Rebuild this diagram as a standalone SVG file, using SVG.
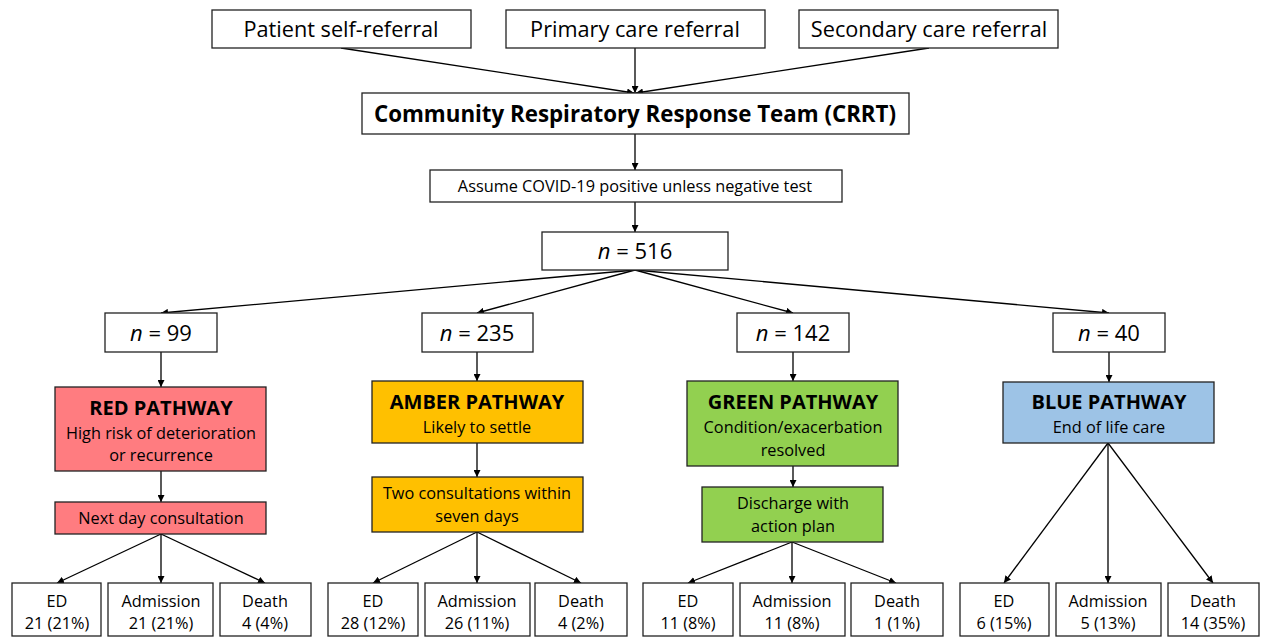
<svg xmlns="http://www.w3.org/2000/svg" width="1261" height="642" viewBox="0 0 1261 642">
<defs>
<marker id="ah" viewBox="0 0 10 10" refX="10" refY="5" markerWidth="7" markerHeight="7" markerUnits="userSpaceOnUse" orient="auto">
<path d="M0,0 L10,5 L0,10 z" fill="#000"/>
</marker>
<style>
rect{stroke:#222;stroke-width:1.3}
.w{fill:#fff}
.r{fill:#ff7c80}
.a{fill:#ffc000}
.g{fill:#92d050}
.b{fill:#9dc3e6}
text{font-family:"Open Sans","Liberation Sans",sans-serif;fill:#000;text-anchor:middle}
.t{font-size:21.7px}
.h{font-size:22.3px;font-weight:bold}
.p{font-size:20px;font-weight:bold}
.s{font-size:16.3px}
.n{font-size:22px}
.c path,.c line{stroke:#000;stroke-width:1.3;fill:none;marker-end:url(#ah)}
</style>
</defs>
<rect width="1261" height="642" fill="#fff" style="stroke:none"/>
<g class="c" id="connectors">
<line x1="341" y1="48" x2="634" y2="93"/>
<line x1="635" y1="48" x2="635" y2="93"/>
<line x1="929" y1="48" x2="636" y2="93"/>
<line x1="635" y1="134" x2="635" y2="170"/>
<line x1="635" y1="202" x2="635" y2="232"/>
<line x1="635" y1="270" x2="161" y2="313"/>
<line x1="635" y1="270" x2="477" y2="313"/>
<line x1="635" y1="270" x2="793" y2="313"/>
<line x1="635" y1="270" x2="1109" y2="313"/>
<line x1="161" y1="352" x2="161" y2="387"/>
<line x1="477" y1="352" x2="477" y2="381"/>
<line x1="793" y1="352" x2="793" y2="381"/>
<line x1="1109" y1="352" x2="1109" y2="382"/>
<line x1="161" y1="471" x2="161" y2="502"/>
<line x1="477" y1="443" x2="477" y2="477"/>
<line x1="793" y1="466" x2="793" y2="487"/>
<line x1="161" y1="534" x2="57" y2="583"/>
<line x1="161" y1="534" x2="161" y2="583"/>
<line x1="161" y1="534" x2="265" y2="583"/>
<line x1="477" y1="532" x2="373" y2="583"/>
<line x1="477" y1="532" x2="477" y2="583"/>
<line x1="477" y1="532" x2="581" y2="583"/>
<line x1="792" y1="542" x2="688" y2="583"/>
<line x1="792" y1="542" x2="792" y2="583"/>
<line x1="792" y1="542" x2="896" y2="583"/>
<line x1="1108" y1="443" x2="1004" y2="583"/>
<line x1="1108" y1="443" x2="1108" y2="583"/>
<line x1="1108" y1="443" x2="1213" y2="583"/>
</g>
<g id="patient"><rect class="w" x="212" y="10" width="259" height="38"/><text class="t" x="341" y="37">Patient self-referral</text></g>
<g id="primary"><rect class="w" x="506" y="10" width="259" height="38"/><text class="t" x="635" y="37">Primary care referral</text></g>
<g id="secondary"><rect class="w" x="799" y="10" width="259" height="38"/><text class="t" x="929" y="37">Secondary care referral</text></g>
<g id="crrt"><rect class="w" x="362" y="93" width="547" height="41"/><text class="h" x="635" y="122">Community Respiratory Response Team (CRRT)</text></g>
<g id="assume"><rect class="w" x="430" y="170" width="412" height="32"/><text class="s" x="635" y="192">Assume COVID-19 positive unless negative test</text></g>
<g id="n516"><rect class="w" x="542" y="232" width="186" height="38"/><text class="n" x="635" y="259"><tspan font-style="italic">n</tspan> = 516</text></g>
<g id="n99"><rect class="w" x="105" y="313" width="112" height="39"/><text class="n" x="161" y="341"><tspan font-style="italic">n</tspan> = 99</text></g>
<g id="n235"><rect class="w" x="422" y="313" width="111" height="39"/><text class="n" x="477" y="341"><tspan font-style="italic">n</tspan> = 235</text></g>
<g id="n142"><rect class="w" x="737" y="313" width="112" height="39"/><text class="n" x="793" y="341"><tspan font-style="italic">n</tspan> = 142</text></g>
<g id="n40"><rect class="w" x="1053" y="313" width="112" height="39"/><text class="n" x="1109" y="341"><tspan font-style="italic">n</tspan> = 40</text></g>
<g id="red"><rect class="r" x="55" y="387" width="211" height="84"/><text class="p" x="161" y="415">RED PATHWAY</text><text class="s" x="161" y="439">High risk of deterioration</text><text class="s" x="161" y="461">or recurrence</text></g>
<g id="amber"><rect class="a" x="372" y="381" width="211" height="62"/><text class="p" x="477" y="409">AMBER PATHWAY</text><text class="s" x="477" y="433">Likely to settle</text></g>
<g id="green"><rect class="g" x="687" y="381" width="211" height="85"/><text class="p" x="793" y="409">GREEN PATHWAY</text><text class="s" x="793" y="433">Condition/exacerbation</text><text class="s" x="793" y="456">resolved</text></g>
<g id="blue"><rect class="b" x="1003" y="382" width="211" height="61"/><text class="p" x="1109" y="409">BLUE PATHWAY</text><text class="s" x="1109" y="433">End of life care</text></g>
<g id="nextday"><rect class="r" x="55" y="502" width="211" height="32"/><text class="s" x="161" y="524">Next day consultation</text></g>
<g id="twocons"><rect class="a" x="372" y="477" width="211" height="55"/><text class="s" x="477" y="499">Two consultations within</text><text class="s" x="477" y="522">seven days</text></g>
<g id="discharge"><rect class="g" x="702" y="487" width="181" height="55"/><text class="s" x="793" y="509">Discharge with</text><text class="s" x="793" y="532">action plan</text></g>
<g id="red-ed"><rect class="w" x="12" y="583" width="89" height="53"/><text class="s" x="57" y="607">ED</text><text class="s" x="57" y="629">21 (21%)</text></g>
<g id="red-adm"><rect class="w" x="108" y="583" width="105" height="53"/><text class="s" x="161" y="607">Admission</text><text class="s" x="161" y="629">21 (21%)</text></g>
<g id="red-death"><rect class="w" x="220" y="583" width="91" height="53"/><text class="s" x="265" y="607">Death</text><text class="s" x="265" y="629">4 (4%)</text></g>
<g id="amber-ed"><rect class="w" x="328" y="583" width="90" height="53"/><text class="s" x="373" y="607">ED</text><text class="s" x="373" y="629">28 (12%)</text></g>
<g id="amber-adm"><rect class="w" x="425" y="583" width="105" height="53"/><text class="s" x="477" y="607">Admission</text><text class="s" x="477" y="629">26 (11%)</text></g>
<g id="amber-death"><rect class="w" x="535" y="583" width="92" height="53"/><text class="s" x="581" y="607">Death</text><text class="s" x="581" y="629">4 (2%)</text></g>
<g id="green-ed"><rect class="w" x="643" y="583" width="90" height="53"/><text class="s" x="688" y="607">ED</text><text class="s" x="688" y="629">11 (8%)</text></g>
<g id="green-adm"><rect class="w" x="740" y="583" width="105" height="53"/><text class="s" x="792" y="607">Admission</text><text class="s" x="792" y="629">11 (8%)</text></g>
<g id="green-death"><rect class="w" x="851" y="583" width="92" height="53"/><text class="s" x="897" y="607">Death</text><text class="s" x="897" y="629">1 (1%)</text></g>
<g id="blue-ed"><rect class="w" x="960" y="583" width="89" height="53"/><text class="s" x="1004" y="607">ED</text><text class="s" x="1004" y="629">6 (15%)</text></g>
<g id="blue-adm"><rect class="w" x="1056" y="583" width="105" height="53"/><text class="s" x="1108" y="607">Admission</text><text class="s" x="1108" y="629">5 (13%)</text></g>
<g id="blue-death"><rect class="w" x="1168" y="583" width="91" height="53"/><text class="s" x="1213" y="607">Death</text><text class="s" x="1213" y="629">14 (35%)</text></g>
</svg>
